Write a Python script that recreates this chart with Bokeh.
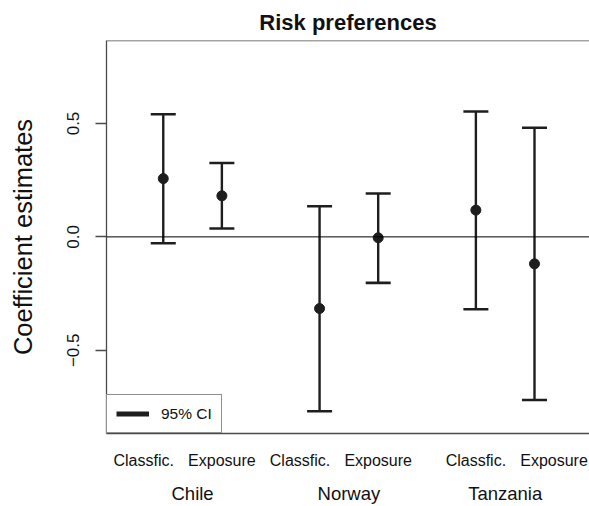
from bokeh.plotting import figure
from bokeh.models import (ColumnDataSource, Whisker, TeeHead, Span, LinearAxis,
                          FixedTicker, Range1d, Legend, LegendItem)
from bokeh.embed import file_html
from bokeh.resources import INLINE

# ---- data ----
countries = ["Chile", "Norway", "Tanzania"]
models = ["Classfic.", "Exposure"]
x_pos = [1.0, 1.6, 2.6, 3.2, 4.2, 4.8]
estimate = [0.257, 0.181, -0.316, -0.004, 0.118, -0.119]
ci_upper = [0.541, 0.326, 0.135, 0.191, 0.553, 0.481]
ci_lower = [-0.028, 0.037, -0.769, -0.203, -0.319, -0.719]
model_label_pos = [0.8, 1.6, 2.4, 3.2, 4.2, 5.0]
model_labels = ["Classfic.", "Exposure", "Classfic.", "Exposure", "Classfic.", "Exposure"]
country_label_pos = [1.3, 2.9, 4.5]
y_ticks = [-0.5, 0.0, 0.5]
y_tick_labels = ["\u22120.5", "0.0", "0.5"]

FONT = "Liberation Sans"
INK = "#1e1e1e"
BOX = "#4a4a4a"

src = ColumnDataSource(dict(x=x_pos, est=estimate, up=ci_upper, lo=ci_lower))

p = figure(width=589, height=506, output_backend="svg", toolbar_location=None,
           x_range=Range1d(0.419, 5.363), y_range=Range1d(-0.867, 0.866),
           min_border_left=106, min_border_right=0, min_border_top=40,
           min_border_bottom=65, x_axis_location=None, y_axis_location=None,
           title="Risk preferences")
p.outline_line_color = None
p.grid.visible = False
p.background_fill_color = "white"
p.border_fill_color = "white"

p.title.text_font = FONT
p.title.text_font_size = "22px"
p.title.text_font_style = "bold"
p.title.align = "center"
p.title.text_color = "#111111"
p.title.standoff = 12

# y axis
yax = LinearAxis(ticker=FixedTicker(ticks=y_ticks),
                 major_label_overrides={t: l for t, l in zip(y_ticks, y_tick_labels)})
yax.axis_label = "Coefficient estimates"
yax.axis_label_text_font = FONT
yax.axis_label_text_font_size = "25.5px"
yax.axis_label_text_font_style = "normal"
yax.axis_label_text_color = "#111111"
yax.axis_label_standoff = 28
yax.major_label_text_font = FONT
yax.major_label_text_font_size = "17px"
yax.major_label_text_color = "#111111"
yax.major_label_orientation = "vertical"
yax.major_label_standoff = 16
yax.major_tick_out = 11
yax.major_tick_in = 0
yax.minor_tick_out = 0
yax.minor_tick_in = 0
yax.axis_line_color = BOX
yax.axis_line_width = 1.3
yax.major_tick_line_color = BOX
yax.major_tick_line_width = 1.3
p.add_layout(yax, "left")

# bottom axis with model labels
xax = LinearAxis(ticker=FixedTicker(ticks=model_label_pos),
                 major_label_overrides={t: l for t, l in zip(model_label_pos, model_labels)})
xax.major_label_text_font = FONT
xax.major_label_text_font_size = "16px"
xax.major_label_text_color = "#111111"
xax.major_label_standoff = 18
xax.major_tick_out = 0
xax.major_tick_in = 0
xax.minor_tick_out = 0
xax.minor_tick_in = 0
xax.axis_line_color = BOX
xax.axis_line_width = 1.3
p.add_layout(xax, "below")

# second bottom axis with country labels
cax = LinearAxis(ticker=FixedTicker(ticks=country_label_pos),
                 major_label_overrides={t: l for t, l in zip(country_label_pos, countries)})
cax.major_label_text_font = FONT
cax.major_label_text_font_size = "18.5px"
cax.major_label_text_color = "#111111"
cax.major_label_standoff = 11
cax.major_tick_out = 0
cax.major_tick_in = 0
cax.minor_tick_out = 0
cax.minor_tick_in = 0
cax.axis_line_color = None
p.add_layout(cax, "below")

# top border
p.add_layout(Span(location=0.866, dimension="width", line_color=BOX, line_width=1.3))

# zero line
p.add_layout(Span(location=0, dimension="width", line_color="black", line_width=1))

# error bars
head = dict(size=25, line_width=2.6, line_color=INK)
wh = Whisker(source=src, base="x", upper="up", lower="lo", dimension="height",
             line_width=2.4, line_color=INK,
             upper_head=TeeHead(**head), lower_head=TeeHead(**head))
p.add_layout(wh)

p.scatter("x", "est", source=src, size=10, color=INK)

# legend entry (line glyph with no visible data)
nan = float("nan")
leg_r = p.line(x=[nan], y=[nan], line_width=5, line_color=INK)
legend = Legend(items=[LegendItem(label="95% CI", renderers=[leg_r])],
                location="bottom_left", margin=0, padding=9, spacing=0,
                glyph_width=33, glyph_height=19, label_standoff=12,
                label_text_font=FONT, label_text_font_size="15.5px",
                label_text_color="#111111",
                border_line_color="#222222", border_line_width=1,
                background_fill_color="white", background_fill_alpha=1)
p.add_layout(legend, "center")

open("out.html", "w").write(file_html(p, INLINE))
